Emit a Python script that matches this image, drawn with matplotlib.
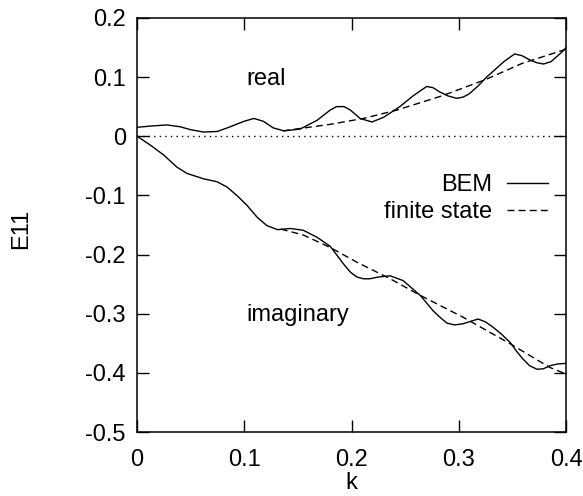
import matplotlib.pyplot as plt

plt.rcParams['font.family'] = ['Liberation Sans', 'DejaVu Sans']

# BEM result, real part
k_re = [0.0, 0.012, 0.028, 0.040, 0.050, 0.062, 0.075, 0.087, 0.0995, 0.109,
        0.118, 0.127, 0.137, 0.152, 0.168, 0.180, 0.186, 0.193, 0.199, 0.208,
        0.219, 0.230, 0.245, 0.258, 0.270, 0.276, 0.282, 0.290, 0.298, 0.304,
        0.310, 0.318, 0.326, 0.342, 0.352, 0.359, 0.366, 0.373, 0.379, 0.386,
        0.391, 0.396, 0.400]
bem_re = [0.015, 0.017, 0.019, 0.016, 0.011, 0.007, 0.008, 0.016, 0.025, 0.030,
          0.025, 0.014, 0.009, 0.012, 0.027, 0.044, 0.050, 0.050, 0.044, 0.030,
          0.024, 0.032, 0.050, 0.069, 0.084, 0.082, 0.075, 0.068, 0.064, 0.066,
          0.072, 0.085, 0.100, 0.126, 0.139, 0.136, 0.129, 0.124, 0.122, 0.126,
          0.134, 0.142, 0.150]

# BEM result, imaginary part
k_im = [0.0, 0.0124, 0.025, 0.037, 0.0466, 0.062, 0.0746, 0.084, 0.093, 0.1026,
        0.112, 0.121, 0.131, 0.143, 0.155, 0.168, 0.180, 0.193, 0.199, 0.205,
        0.211, 0.217, 0.225, 0.236, 0.248, 0.264, 0.276, 0.283, 0.289, 0.296,
        0.304, 0.311, 0.318, 0.325, 0.332, 0.340, 0.348, 0.354, 0.360, 0.366,
        0.373, 0.379, 0.385, 0.392, 0.400]
bem_im = [0.0, -0.015, -0.032, -0.052, -0.063, -0.072, -0.077, -0.086, -0.100, -0.117,
          -0.137, -0.151, -0.158, -0.156, -0.159, -0.171, -0.186, -0.217, -0.230, -0.238,
          -0.241, -0.241, -0.238, -0.236, -0.244, -0.269, -0.295, -0.307, -0.316, -0.319,
          -0.317, -0.313, -0.309, -0.314, -0.323, -0.335, -0.349, -0.364, -0.377, -0.388,
          -0.394, -0.393, -0.388, -0.385, -0.384]

# finite state model
k_fs_re = [0.136, 0.180, 0.211, 0.242, 0.284, 0.324, 0.359, 0.400]
fs_re = [0.009, 0.020, 0.030, 0.044, 0.068, 0.095, 0.123, 0.147]
k_fs_im = [0.134, 0.155, 0.180, 0.205, 0.236, 0.264, 0.304, 0.348, 0.385, 0.400]
fs_im = [-0.157, -0.167, -0.188, -0.213, -0.241, -0.269, -0.306, -0.351, -0.391, -0.402]

fs = 17
fig = plt.figure(figsize=(5.83, 4.96), dpi=100)
ax = fig.add_axes([0.235, 0.129, 0.736, 0.835])

ax.plot(k_re, bem_re, color='black', lw=1.0, label='BEM')
ax.plot(k_fs_re, fs_re, color='black', lw=1.0, ls=(0, (5, 3)), label='finite state')
ax.plot(k_im, bem_im, color='black', lw=1.0)
ax.plot(k_fs_im, fs_im, color='black', lw=1.0, ls=(0, (5, 3)))
ax.plot([0, 0.4], [0, 0], color='black', lw=1.0, ls=(0, (1, 3)))

ax.text(0.12, 0.097, 'real', fontsize=fs, ha='center', va='center')
ax.text(0.15, -0.303, 'imaginary', fontsize=fs, ha='center', va='center')

ax.set_xlim(0, 0.4)
ax.set_ylim(-0.5, 0.2)
ax.set_xticks([0, 0.1, 0.2, 0.3, 0.4])
ax.set_xticklabels(['0', '0.1', '0.2', '0.3', '0.4'])
ax.set_yticks([0.2, 0.1, 0, -0.1, -0.2, -0.3, -0.4, -0.5])
ax.set_yticklabels(['0.2', '0.1', '0', '-0.1', '-0.2', '-0.3', '-0.4', '-0.5'])
ax.tick_params(direction='in', top=True, right=True, length=8.5, width=1.0,
               labelsize=fs)
ax.tick_params(axis='x', pad=12)
ax.tick_params(axis='y', pad=8)
for s in ax.spines.values():
    s.set_linewidth(1.1)

ax.set_xlabel('k', fontsize=fs)
ax.xaxis.set_label_coords(0.5, -0.097)
ax.set_ylabel('E11', fontsize=fs)
ax.yaxis.set_label_coords(-0.245, 0.49)

leg = ax.legend(loc='upper right', bbox_to_anchor=(0.958, 0.622), frameon=False,
                fontsize=fs, markerfirst=False, handlelength=1.74,
                handletextpad=0.64, labelspacing=0.2, borderpad=0,
                borderaxespad=0)
for t in leg.get_texts():
    t.set_ha('right')

fig.savefig('out.png', dpi=100)
